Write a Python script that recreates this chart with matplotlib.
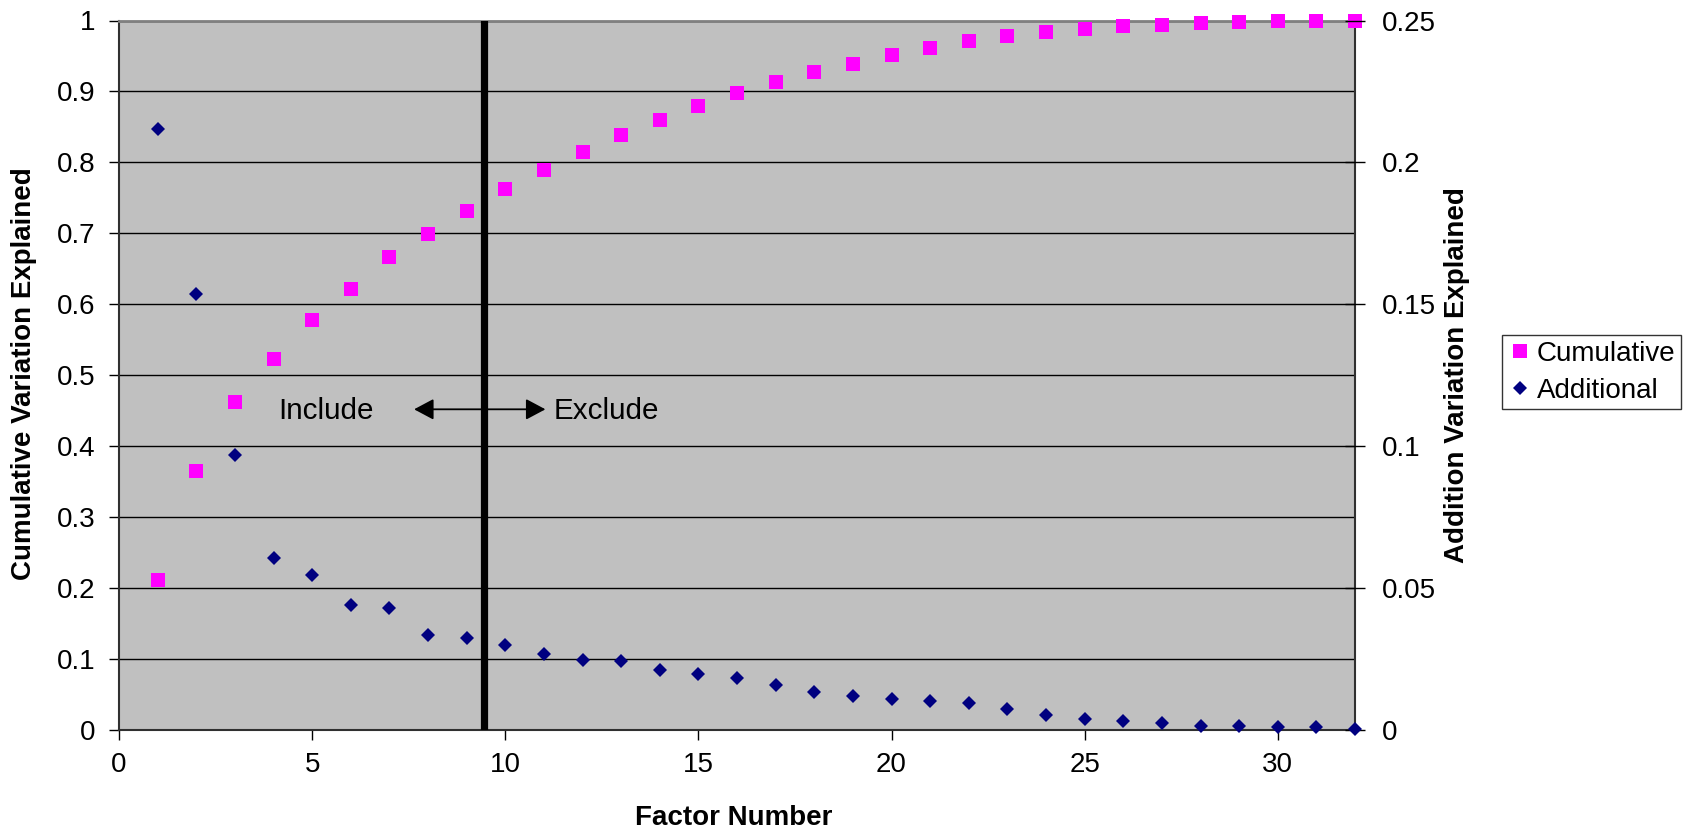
import matplotlib
matplotlib.use("Agg")
import matplotlib.pyplot as plt
from matplotlib.patches import FancyArrowPatch

plt.rcParams["font.family"] = ["Liberation Sans", "DejaVu Sans"]

# Factor analysis: variance explained per factor
factors = list(range(1, 33))
cumulative = [0.211, 0.365, 0.462, 0.523, 0.578, 0.622, 0.666, 0.699,
              0.732, 0.762, 0.789, 0.814, 0.838, 0.860, 0.879, 0.898,
              0.914, 0.928, 0.939, 0.951, 0.961, 0.971, 0.978, 0.984,
              0.988, 0.992, 0.994, 0.996, 0.998, 0.999, 0.9995, 1.0]
additional = [0.2119, 0.1537, 0.0969, 0.0607, 0.0545, 0.0442, 0.0429,
              0.0335, 0.0324, 0.0300, 0.0267, 0.0247, 0.0243, 0.0211,
              0.0197, 0.0183, 0.0159, 0.0134, 0.0121, 0.0109, 0.0101,
              0.0094, 0.0074, 0.0054, 0.0039, 0.0031, 0.0025, 0.0015,
              0.0013, 0.0010, 0.0009, 0.0005]

cutoff = 9.45
left_ticks = [0, 0.1, 0.2, 0.3, 0.4, 0.5, 0.6, 0.7, 0.8, 0.9, 1.0]
left_labels = ["0", "0.1", "0.2", "0.3", "0.4", "0.5", "0.6", "0.7", "0.8", "0.9", "1"]
right_ticks = [0, 0.05, 0.1, 0.15, 0.2, 0.25]
right_labels = ["0", "0.05", "0.1", "0.15", "0.2", "0.25"]
x_ticks = [0, 5, 10, 15, 20, 25, 30]

FS = 20
fig = plt.figure(figsize=(16.84, 8.34), dpi=100)
ax = fig.add_axes([119 / 1684, 1 - 730 / 834, 1236 / 1684, 709.5 / 834])
ax.set_facecolor("#C0C0C0")
ax.set_xlim(0, 32)
ax.set_ylim(0, 1)
ax.set_xticks(x_ticks)
ax.set_xticklabels([str(t) for t in x_ticks])
ax.set_yticks(left_ticks)
ax.set_yticklabels(left_labels)
ax.tick_params(axis="both", labelsize=FS, direction="out", length=7, width=1,
               colors="#000000")
ax.tick_params(axis="y", pad=10)
ax.tick_params(axis="x", pad=9)
ax.grid(axis="y", color="#000000", linewidth=1.0)
ax.set_axisbelow(True)
for side in ["left", "bottom", "right"]:
    ax.spines[side].set_color("#303030")
    ax.spines[side].set_linewidth(1.5)
ax.spines["top"].set_color("#808080")
ax.spines["top"].set_linewidth(2)

ax2 = ax.twinx()
ax2.set_ylim(0, 0.25)
ax2.set_yticks(right_ticks)
ax2.set_yticklabels(right_labels)
ax2.tick_params(axis="y", labelsize=FS, direction="inout", length=14, width=1,
                pad=12, colors="#000000")
for side in ax2.spines:
    ax2.spines[side].set_visible(False)

ax.axvline(cutoff, ymin=0, ymax=1, color="#000000", linewidth=5.2, zorder=3)

h_cum, = ax.plot(factors, cumulative, linestyle="none", marker="s",
                 markersize=10, color="#FF00FF", markeredgewidth=0,
                 clip_on=False, zorder=5, label="Cumulative")
h_add, = ax2.plot(factors, additional, linestyle="none", marker="D",
                  markersize=7.3, color="#000080", markeredgewidth=0,
                  clip_on=False, zorder=5, label="Additional")

arrow = FancyArrowPatch((7.64, 0.452), (11.04, 0.452),
                        arrowstyle="<|-|>,head_length=0.6,head_width=0.32",
                        mutation_scale=20, color="#000000", linewidth=1.3,
                        shrinkA=0, shrinkB=0, zorder=4)
ax.add_patch(arrow)
ax.text(4.12, 0.450, "Include", fontsize=21.3, ha="left", va="center", zorder=4)
ax.text(11.24, 0.450, "Exclude", fontsize=21.3, ha="left", va="center", zorder=4)

ax.set_xlabel("Factor Number", fontsize=FS, fontweight="bold", va="center")
ax.xaxis.set_label_coords(0.497, -0.124)
ax.set_ylabel("Cumulative Variation Explained", fontsize=FS, fontweight="bold",
              va="center")
ax.yaxis.set_label_coords(-0.0769, 0.502)
ax2.set_ylabel("Addition Variation Explained", fontsize=FS, fontweight="bold",
               va="center")
ax2.yaxis.set_label_coords(1.0825, 0.50)

leg = fig.legend(handles=[h_cum, h_add], loc="upper left",
                 bbox_to_anchor=(1502 / 1684, 1 - 335 / 834),
                 fontsize=FS, frameon=True, fancybox=False, shadow=False,
                 borderpad=0.2, handlelength=0.9, handletextpad=0.15,
                 labelspacing=0.4, borderaxespad=0)
leg.get_frame().set_edgecolor("#000000")
leg.get_frame().set_linewidth(1.0)

fig.savefig("out.png", dpi=100)
